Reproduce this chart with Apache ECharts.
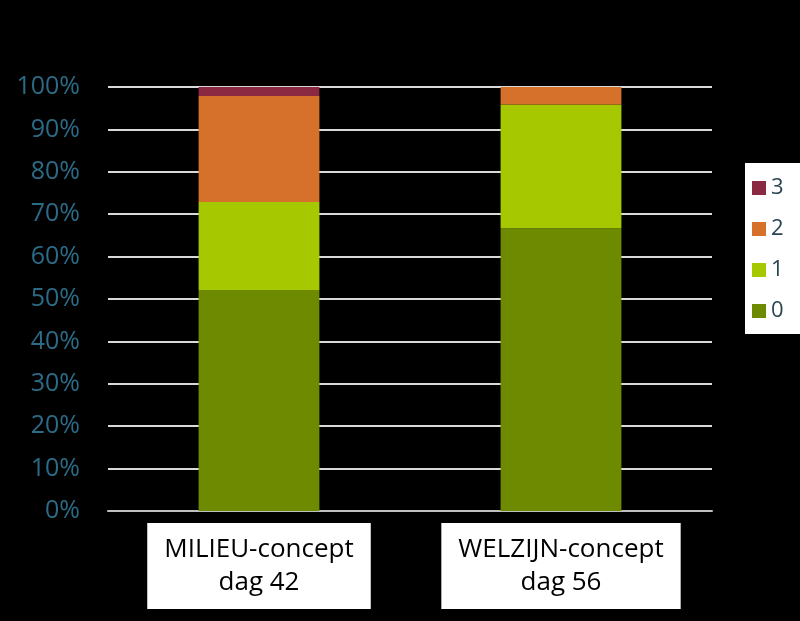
<!DOCTYPE html>
<html><head><meta charset="utf-8">
<script src="https://cdn.jsdelivr.net/npm/echarts@6/dist/echarts.min.js"></script>
<style>html,body{margin:0;padding:0;background:#000;}#c{width:800px;height:621px;}</style>
</head><body><div id="c"></div>
<script>
var categories = ['MILIEU-concept\ndag 42', 'WELZIJN-concept\ndag 56'];
var s0 = [52.1, 66.7];
var s1 = [20.8, 29.2];
var s2 = [25.0, 4.1];
var s3 = [2.1, 0];
var seriesNames = ['0', '1', '2', '3'];
var colors = ['#6E8A00', '#A5C800', '#D5712A', '#8B2942'];
var yTicks = [0, 10, 20, 30, 40, 50, 60, 70, 80, 90, 100];

var chart = echarts.init(document.getElementById('c'));
var data = [s0, s1, s2, s3];
chart.setOption({
  backgroundColor: '#000',
  animation: false,
  grid: {left: 108, right: 88, top: 87, bottom: 110},
  legend: {
    data: ['3', '2', '1', '0'],
    orient: 'vertical',
    left: 745, top: 163,
    width: 60,
    backgroundColor: '#fff',
    padding: [14, 24, 12, 7],
    icon: 'rect',
    itemWidth: 14, itemHeight: 14, itemGap: 19,
    textStyle: {color: '#2A4450', fontSize: 22, fontFamily: 'Open Sans'}
  },
  xAxis: {
    type: 'category',
    data: categories,
    axisLine: {lineStyle: {color: '#BFBFBF', width: 2}},
    axisTick: {show: false},
    axisLabel: {
      margin: 12,
      color: '#000',
      fontSize: 26,
      lineHeight: 33,
      fontFamily: 'Open Sans',
      backgroundColor: '#fff',
      padding: [10, 17, 10, 17]
    }
  },
  yAxis: {
    type: 'value',
    min: 0, max: 100, interval: 10,
    axisLine: {show: false},
    axisTick: {show: false},
    splitLine: {lineStyle: {color: '#D9D9D9', width: 2}},
    axisLabel: {
      margin: 28,
      color: '#2C6B87',
      fontSize: 25,
      fontFamily: 'Open Sans',
      formatter: function (v) { return yTicks.indexOf(v) >= 0 ? v + '%' : ''; }
    }
  },
  series: seriesNames.map(function (n, i) {
    return {
      name: n, type: 'bar', stack: 'total', barWidth: '40%',
      itemStyle: {color: colors[i]},
      data: data[i]
    };
  })
});
</script></body></html>
